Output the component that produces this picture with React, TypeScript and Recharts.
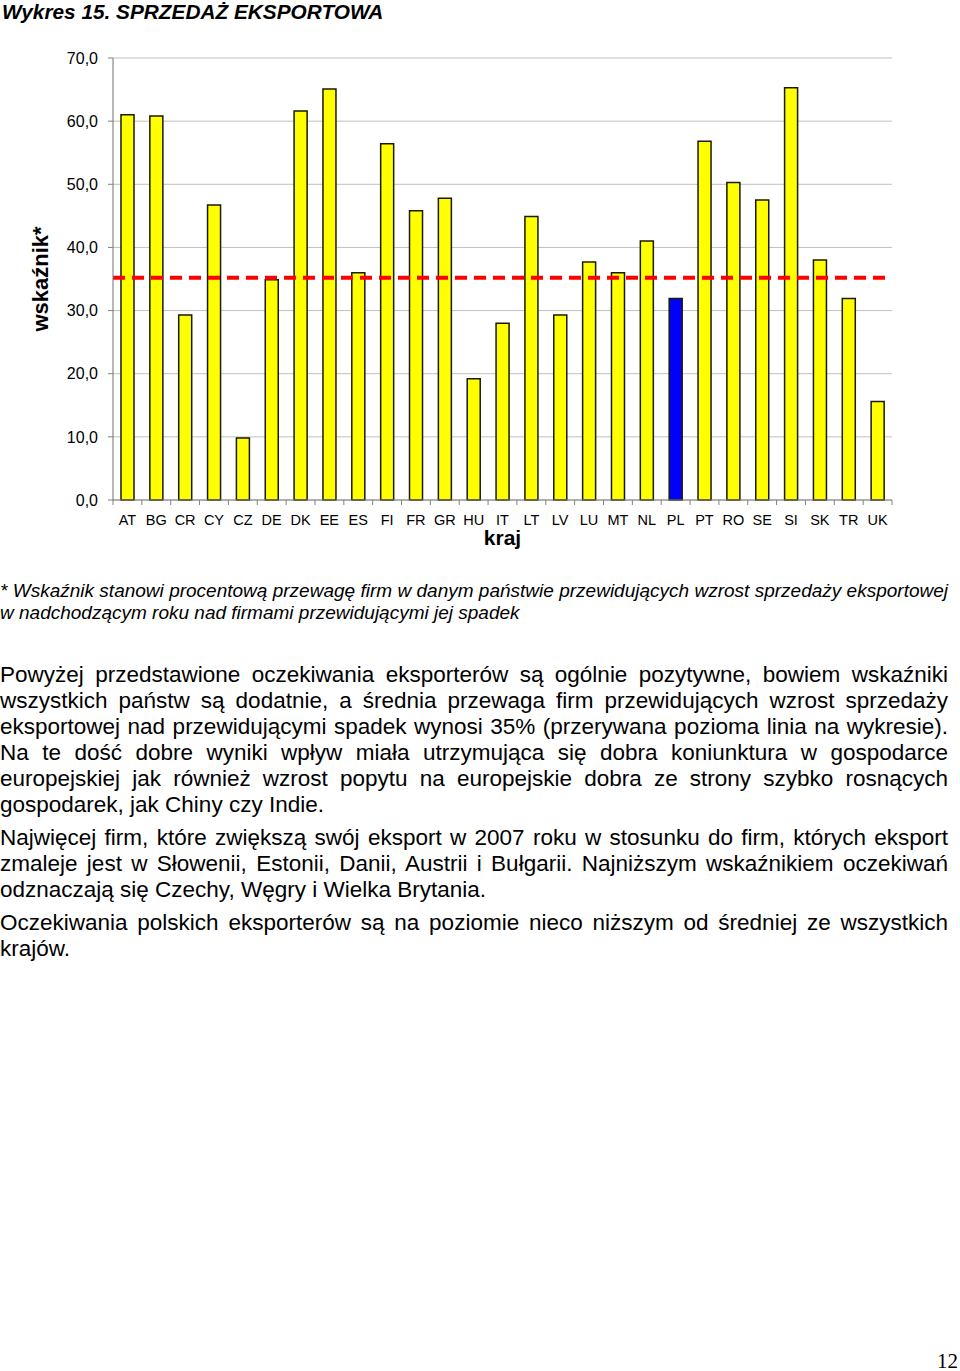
import React from 'react';
import { BarChart, Bar, XAxis, YAxis, CartesianGrid, ReferenceLine, Cell, Label } from 'recharts';

const COUNTRIES = ['AT','BG','CR','CY','CZ','DE','DK','EE','ES','FI','FR','GR','HU','IT','LT','LV','LU','MT','NL','PL','PT','RO','SE','SI','SK','TR','UK'];
const VALUES = [61.0,60.8,29.3,46.7,9.8,34.9,61.6,65.1,36.0,56.4,45.8,47.8,19.2,28.0,44.9,29.3,37.7,36.0,41.0,31.9,56.8,50.3,47.5,65.3,38.0,31.9,15.6];
const HIGHLIGHT = 'PL';
const AVERAGE = 35.2;
const Y_TICKS = [0,10,20,30,40,50,60,70];

const data = COUNTRIES.map((c, i) => ({ kraj: c, value: VALUES[i] }));

const FONT = '"Liberation Sans", Arial, sans-serif';

const TITLE = 'Wykres 15. SPRZEDAŻ EKSPORTOWA';
const FOOTNOTE = [
  '* Wskaźnik stanowi procentową przewagę firm w danym państwie przewidujących wzrost sprzedaży eksportowej',
  'w nadchodzącym roku nad firmami przewidującymi jej spadek',
];
const PARAGRAPHS = [
  [
    'Powyżej przedstawione oczekiwania eksporterów są ogólnie pozytywne, bowiem wskaźniki',
    'wszystkich państw są dodatnie, a średnia przewaga firm przewidujących wzrost sprzedaży',
    'eksportowej nad przewidującymi spadek wynosi 35% (przerywana pozioma linia na wykresie).',
    'Na te dość dobre wyniki wpływ miała utrzymująca się dobra koniunktura w gospodarce',
    'europejskiej jak również wzrost popytu na europejskie dobra ze strony szybko rosnących',
    'gospodarek, jak Chiny czy Indie.',
  ],
  [
    'Najwięcej firm, które zwiększą swój eksport w 2007 roku w stosunku do firm, których eksport',
    'zmaleje jest w Słowenii, Estonii, Danii, Austrii i Bułgarii. Najniższym wskaźnikiem oczekiwań',
    'odznaczają się Czechy, Węgry i Wielka Brytania.',
  ],
  [
    'Oczekiwania polskich eksporterów są na poziomie nieco niższym od średniej ze wszystkich',
    'krajów.',
  ],
];

const XTick = (props: any) => {
  const { x, y, payload, index } = props;
  const half = payload && payload.offset ? payload.offset : 779 / COUNTRIES.length / 2;
  const isLast = index === COUNTRIES.length - 1;
  return (
    <g>
      <line x1={x - half} x2={x - half} y1={y} y2={y + 5} stroke="#808080" />
      {isLast && <line x1={x + half} x2={x + half} y1={y} y2={y + 5} stroke="#808080" />}
      <text x={x} y={y + 25} textAnchor="middle" fontSize={14.5} fontFamily={FONT} fill="#000">
        {payload.value}
      </text>
    </g>
  );
};

const YLabel = (props: any) => {
  const vb = props.viewBox || { x: 0, y: 58, width: 113, height: 442 };
  const cx = vb.x + 40;
  const cy = vb.y + vb.height / 2;
  return (
    <text
      x={cx}
      y={cy}
      transform={`rotate(-90, ${cx}, ${cy})`}
      textAnchor="middle"
      dominantBaseline="central"
      fontSize={22}
      fontWeight="bold"
      fontFamily={FONT}
      fill="#000"
    >
      wskaźnik*
    </text>
  );
};

const Line = ({ text, last }: { text: string; last: boolean }) => (
  <div style={{ textAlign: 'justify', textAlignLast: last ? 'left' : 'justify', whiteSpace: 'nowrap' } as any}>
    {text}
  </div>
);

export default function App() {
  return (
    <div style={{ position: 'absolute', left: 0, top: 0, width: 960, height: 1371, background: '#fff', fontFamily: FONT, color: '#000' }}>
      <div style={{ position: 'absolute', left: 2, top: 0, fontSize: 20.8, lineHeight: '24px', fontWeight: 'bold', fontStyle: 'italic' }}>
        {TITLE}
      </div>

      <div style={{ position: 'absolute', left: 0, top: 0 }}>
        <BarChart width={900} height={560} data={data} margin={{ top: 58, right: 8, bottom: 10, left: 0 }} barCategoryGap={0}>
          <CartesianGrid vertical={false} stroke="#c0c0c0" />
          <XAxis xAxisId="top" orientation="top" dataKey="kraj" height={0} tick={false} tickLine={false} axisLine={{ stroke: '#808080', strokeWidth: 1.5 }} />
          <XAxis
            dataKey="kraj"
            interval={0}
            height={50}
            tickSize={0}
            tickMargin={0}
            tickLine={false}
            axisLine={{ stroke: '#808080' }}
            tick={<XTick />}
          >
            <Label value="kraj" position="insideBottom" offset={5} fontSize={21} fontWeight="bold" fontFamily={FONT} fill="#000" />
          </XAxis>
          <YAxis
            domain={[0, 70]}
            ticks={Y_TICKS}
            interval={0}
            width={113}
            tickSize={5}
            tickMargin={10}
            tickFormatter={(v: number) => v.toFixed(1).replace('.', ',')}
            tick={{ fontSize: 16, fill: '#000', fontFamily: FONT }}
            axisLine={{ stroke: '#707070' }}
            tickLine={{ stroke: '#808080' }}
          >
            <Label content={<YLabel />} />
          </YAxis>
          <YAxis yAxisId="right" orientation="right" width={0} domain={[0, 70]} tick={false} tickLine={false} axisLine={{ stroke: '#808080', strokeWidth: 1.5 }} />
          <Bar dataKey="value" barSize={13} stroke="#1a1a00" strokeWidth={1.5} isAnimationActive={false}>
            {data.map((d) => (
              <Cell key={d.kraj} fill={d.kraj === HIGHLIGHT ? '#0000FF' : '#FFFF00'} />
            ))}
          </Bar>
          <ReferenceLine y={AVERAGE} stroke="#FF0000" strokeWidth={4} strokeDasharray="12 7" />
        </BarChart>
      </div>

      <div style={{ position: 'absolute', left: 0, top: 580, width: 948, fontSize: 19, lineHeight: '22px', fontStyle: 'italic' }}>
        {FOOTNOTE.map((t, i) => (
          <Line key={i} text={t} last={i === FOOTNOTE.length - 1} />
        ))}
      </div>

      <div style={{ position: 'absolute', left: 0, top: 662, width: 948, fontSize: 22.5, lineHeight: '26px' }}>
        {PARAGRAPHS.map((p, pi) => (
          <div key={pi} style={{ marginTop: pi === 0 ? 0 : 7 }}>
            {p.map((t, i) => (
              <Line key={i} text={t} last={i === p.length - 1} />
            ))}
          </div>
        ))}
      </div>

      <div style={{ position: 'absolute', right: 2, top: 1349, fontSize: 21, lineHeight: '24px', fontFamily: '"Liberation Serif", "Times New Roman", serif' }}>
        12
      </div>
    </div>
  );
}
